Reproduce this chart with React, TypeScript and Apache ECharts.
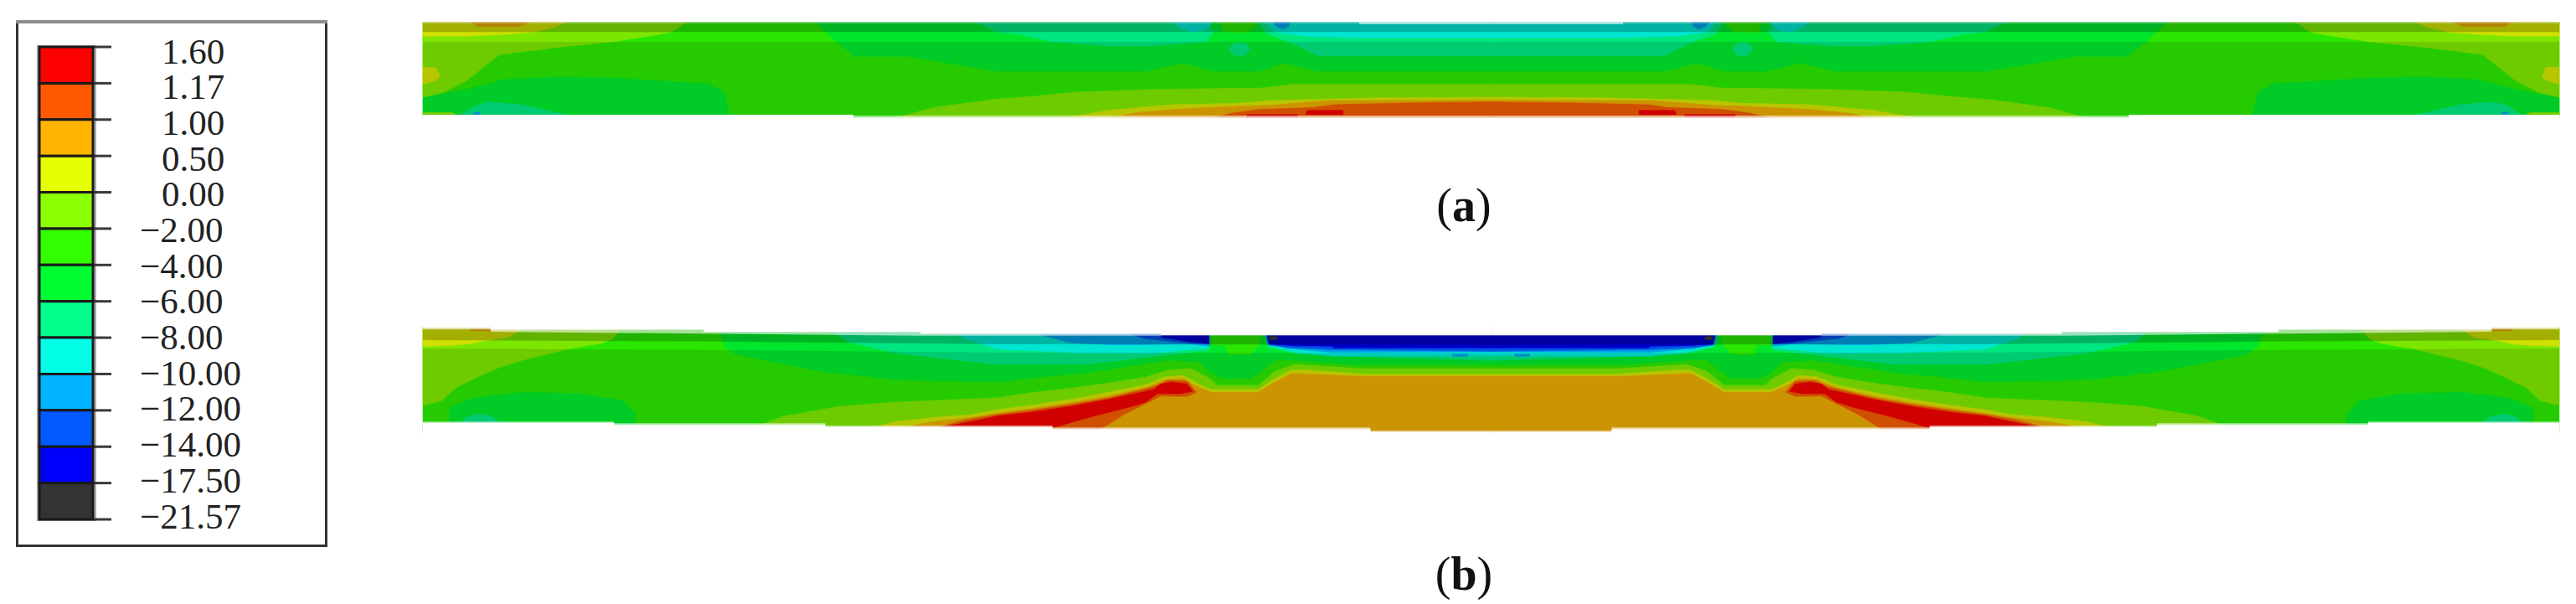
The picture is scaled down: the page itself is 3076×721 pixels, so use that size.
import React, { useEffect, useRef } from "react";
import * as echarts from "echarts";

type Pt = [number, number];
type Region = [string, Pt[]];

// Stress levels of the colour scale (top to bottom)
const legendLabels = ["1.60", "1.17", "1.00", "0.50", "0.00", "−2.00", "−4.00", "−6.00", "−8.00", "−10.00", "−12.00", "−14.00", "−17.50", "−21.57"];
const legendColors = ["#ff0000", "#ff5a00", "#ffb400", "#e6ff00", "#8cff00", "#32ff00", "#00ff32", "#00ff8c", "#00ffe6", "#00b4ff", "#005aff", "#0000ff", "#333333"];

// Fill of each contour band inside the beam
const bandColors: Record<string, string> = {
  R: "#eb0000", O: "#eb5a00", A: "#e6a700", Y: "#d0e000", L: "#7de600", G: "#2ae600",
  H: "#00e62c", T: "#00e680", C: "#00e6d0", S: "#00a2e6", B: "#0052e6", D: "#0000cc", K: "#3a3a3a",
  W: "#ffffff", V: "rgba(255,255,255,0.6)", U: "rgba(255,255,255,0.25)",
};

const centre = 2891; // symmetry line of the beam, in axis units

// Panel (a): contour regions of the left half, painted in order, mirrored about the centre
const panelA: Region[] = [
  ["G", [[34, 48], [2891, 48], [2891, 392], [34, 392]]],
  ["H", [[1080, 48], [1090, 55], [1130, 110], [1190, 172], [1330, 172], [1568, 225], [1968, 225], [2068, 195], [2148, 225], [2268, 225], [2338, 195], [2428, 225], [2891, 225], [2891, 48]]],
  ["T", [[1505, 48], [1540, 65], [1568, 85], [1618, 90], [1718, 120], [1878, 135], [1968, 135], [2128, 120], [2150, 85], [2130, 48]]],
  ["T", [[2270, 48], [2288, 90], [2368, 130], [2428, 170], [2891, 170], [2891, 48]]],
  ["C", [[2038, 48], [2060, 70], [2090, 85], [2120, 80], [2140, 60], [2145, 48]]],
  ["C", [[2288, 48], [2310, 85], [2400, 100], [2540, 105], [2891, 105], [2891, 48]]],
  ["S", [[2305, 48], [2318, 65], [2335, 75], [2350, 65], [2355, 48]]],
  ["G", [[2165, 48], [2178, 85], [2240, 85], [2262, 60], [2262, 48]]],
  ["T", [[2190, 145], [2200, 128], [2218, 122], [2236, 128], [2246, 145], [2236, 165], [2218, 172], [2200, 165]]],
  ["L", [[34, 48], [740, 48], [700, 85], [660, 95], [540, 120], [390, 140], [240, 165], [215, 190], [150, 260], [90, 300], [34, 320]]],
  ["Y", [[34, 48], [420, 48], [380, 70], [330, 85], [260, 92], [150, 100], [34, 100]]],
  ["A", [[160, 48], [320, 48], [290, 65], [180, 65]]],
  ["Y", [[34, 210], [70, 212], [80, 245], [65, 260], [34, 272]]],
  ["H", [[34, 320], [150, 290], [250, 255], [400, 245], [550, 250], [800, 270], [840, 300], [855, 382], [34, 382]]],
  ["T", [[135, 382], [170, 350], [210, 335], [300, 345], [420, 382]]],
  ["S", [[168, 382], [172, 372], [185, 372], [188, 382]]],
  ["L", [[34, 372], [110, 372], [125, 382], [34, 382]]],
  ["L", [[1300, 392], [1400, 355], [1568, 325], [1668, 315], [1778, 300], [1988, 290], [2278, 285], [2358, 272], [2891, 272], [2891, 392]]],
  ["Y", [[1748, 392], [1868, 365], [2038, 345], [2218, 340], [2298, 330], [2448, 325], [2588, 320], [2891, 318], [2891, 392]]],
  ["A", [[1868, 392], [1948, 372], [2038, 362], [2218, 350], [2298, 347], [2458, 330], [2588, 330], [2891, 328], [2891, 392]]],
  ["O", [[2148, 392], [2198, 375], [2268, 362], [2418, 355], [2468, 345], [2683, 338], [2891, 335], [2891, 392]]],
  ["R", [[2238, 392], [2238, 380], [2373, 380], [2373, 392]]],
  ["R", [[2395, 380], [2400, 365], [2495, 365], [2495, 380]]],
];
// Shading of the flange layers in panel (a): [black alpha, outline]
const shadeA: [number, Pt[]][] = [
  [0.22, [[34, 48], [2891, 48], [2891, 85], [34, 85]]],
  [0.115, [[34, 120], [2891, 120], [2891, 392], [34, 392]]],
];
const maskA: Region[] = [
  ["U", [[34, 48], [2538, 48], [2538, 55], [34, 55]]],
  ["W", [[34, 382], [1185, 382], [1185, 396], [34, 396]]],
  ["V", [[1185, 384], [2891, 384], [2891, 392], [1185, 392]]],
  ["W", [[1185, 392], [2891, 392], [2891, 396], [1185, 396]]],
  ["V", [[2538, 48], [2891, 48], [2891, 57], [2538, 57]]],
  ["W", [[34, 42], [2891, 42], [2891, 48], [34, 48]]],
];

// Panel (b)
const panelB: Region[] = [
  ["G", [[34, 30], [2891, 30], [2891, 410], [34, 410]]],
  ["H", [[825, 30], [840, 100], [870, 130], [1100, 190], [1300, 220], [1568, 228], [1688, 210], [1808, 195], [1928, 170], [2028, 150], [2108, 155], [2138, 190], [2168, 215], [2248, 215], [2278, 190], [2313, 150], [2368, 150], [2528, 165], [2891, 165], [2891, 30]]],
  ["T", [[1115, 30], [1170, 85], [1300, 125], [1568, 165], [1808, 165], [1968, 140], [2048, 128], [2138, 115], [2138, 30]]],
  ["T", [[2280, 30], [2293, 105], [2368, 125], [2468, 135], [2891, 150], [2891, 30]]],
  ["C", [[1430, 30], [1480, 70], [1568, 110], [1808, 125], [1988, 125], [2138, 105], [2138, 30]]],
  ["C", [[2280, 30], [2293, 95], [2368, 122], [2468, 135], [2891, 135], [2891, 30]]],
  ["S", [[1680, 30], [1688, 60], [1768, 88], [1888, 95], [2088, 92], [2138, 100], [2138, 30]]],
  ["S", [[2280, 30], [2293, 85], [2348, 108], [2468, 122], [2891, 120], [2891, 30]]],
  ["B", [[1880, 30], [1960, 72], [2088, 90], [2138, 92], [2138, 30]]],
  ["B", [[2285, 30], [2295, 95], [2348, 105], [2468, 112], [2891, 118], [2891, 30]]],
  ["D", [[2005, 30], [2010, 68], [2090, 85], [2138, 90], [2138, 30]]],
  ["D", [[2288, 30], [2298, 92], [2368, 98], [2465, 100], [2470, 106], [2891, 106], [2891, 30]]],
  ["K", [[2298, 65], [2318, 65], [2320, 75], [2300, 78]]],
  ["S", [[2788, 128], [2828, 128], [2828, 136], [2788, 136]]],
  ["H", [[2138, 30], [2280, 30], [2293, 100], [2280, 170], [2140, 170]]],
  ["G", [[2143, 30], [2278, 30], [2272, 95], [2248, 130], [2188, 130], [2178, 95], [2145, 95]]],
  ["L", [[34, 30], [570, 30], [540, 75], [510, 90], [420, 110], [300, 150], [240, 175], [180, 210], [120, 250], [85, 295], [40, 310], [34, 310]]],
  ["Y", [[34, 30], [310, 30], [260, 68], [200, 80], [155, 92], [100, 98], [34, 100]]],
  ["A", [[160, 30], [215, 30], [215, 45], [160, 45]]],
  ["H", [[105, 390], [105, 320], [170, 285], [300, 265], [450, 270], [570, 295], [600, 340], [605, 390]]],
  ["T", [[135, 375], [150, 353], [185, 342], [220, 353], [240, 375]]],
  ["L", [[930, 385], [1000, 350], [1150, 315], [1300, 300], [1568, 285], [1668, 265], [1768, 250], [1868, 232], [1968, 210], [2028, 185], [2088, 180], [2138, 215], [2158, 240], [2268, 240], [2313, 190], [2368, 165], [2548, 180], [2891, 180], [2891, 410], [930, 410]]],
  ["Y", [[1230, 392], [1300, 370], [1400, 355], [1500, 345], [1568, 328], [1668, 310], [1768, 290], [1868, 265], [1968, 238], [2018, 210], [2068, 205], [2108, 235], [2143, 255], [2268, 255], [2308, 220], [2358, 185], [2398, 185], [2553, 200], [2891, 200], [2891, 410], [1230, 410]]],
  ["A", [[1310, 392], [1400, 370], [1500, 355], [1568, 340], [1668, 322], [1768, 302], [1868, 278], [1968, 248], [2018, 220], [2068, 215], [2098, 240], [2143, 265], [2268, 265], [2308, 232], [2358, 197], [2548, 208], [2891, 208], [2891, 410], [1310, 410]]],
  ["O", [[1390, 400], [1480, 365], [1568, 345], [1668, 328], [1768, 308], [1868, 285], [1988, 245], [2028, 222], [2078, 225], [2103, 265], [2078, 280], [2008, 278], [1908, 345], [1843, 400]]],
  ["R", [[1415, 392], [1500, 370], [1568, 350], [1668, 335], [1768, 315], [1868, 290], [1988, 255], [2008, 235], [2038, 228], [2078, 235], [2093, 262], [2058, 270], [1998, 270], [1968, 300], [1918, 320], [1828, 350], [1718, 392]]],
];
const shadeB: [number, Pt[]][] = [
  [0.22, [[34, 30], [2891, 30], [2891, 95], [1568, 92], [700, 82], [34, 78]]],
  [0.115, [[34, 108], [700, 112], [1568, 122], [2891, 125], [2891, 410], [34, 410]]],
];
const maskB: Region[] = [
  ["V", [[215, 40], [785, 40], [785, 48], [1365, 48], [1365, 55], [2008, 55], [2008, 62], [1950, 62], [1365, 62], [785, 55], [215, 48]]],
  ["V", [[34, 33], [215, 33], [215, 40], [34, 40]]],
  ["W", [[34, 20], [215, 20], [215, 33], [34, 33]]],
  ["W", [[215, 20], [215, 40], [785, 40], [785, 48], [1365, 48], [1365, 55], [2008, 55], [2008, 60], [2891, 60], [2891, 20]]],
  ["V", [[34, 370], [545, 370], [545, 376], [1110, 376], [1110, 384], [1718, 384], [1718, 391], [2568, 391], [2568, 402], [2891, 402], [2891, 408], [2568, 408], [2568, 397], [1718, 397], [1718, 390], [1110, 390], [1110, 382], [545, 382], [545, 375], [34, 375]]],
  ["W", [[34, 375], [545, 375], [545, 382], [1110, 382], [1110, 390], [1718, 390], [1718, 397], [2568, 397], [2568, 408], [2891, 408], [2891, 414], [34, 414]]],
];

const serif = "'Liberation Serif', serif";

function regionSeries(regions: { fill: string; pts: Pt[] }[], axis: number) {
  return {
    type: "custom",
    xAxisIndex: axis,
    yAxisIndex: axis,
    clip: false,
    silent: true,
    data: regions.map((r) => [r.pts[0][0], r.pts[0][1]]),
    renderItem: (params: any, api: any) => {
      const r = regions[params.dataIndex];
      const left = r.pts.map((p) => api.coord(p));
      const right = r.pts.map((p) => api.coord([2 * centre - p[0], p[1]]));
      const style = { fill: r.fill, stroke: r.fill.startsWith("rgba") ? "none" : r.fill, lineWidth: 0.6 };
      return {
        type: "group",
        children: [
          { type: "polygon", shape: { points: left }, style },
          { type: "polygon", shape: { points: right }, style },
        ],
      };
    },
  };
}

function layers(regions: Region[], shade: [number, Pt[]][], mask: Region[]) {
  return [
    ...regions.map(([k, pts]) => ({ fill: bandColors[k], pts })),
    ...shade.map(([a, pts]) => ({ fill: `rgba(0,0,0,${a})`, pts })),
    ...mask.map(([k, pts]) => ({ fill: bandColors[k], pts })),
  ];
}

const hiddenX = { type: "value", show: false, min: 34, max: 5748 };

export default function App() {
  const ref = useRef<HTMLDivElement>(null);
  useEffect(() => {
    document.body.style.margin = "0";
    document.body.style.overflow = "hidden";
    const chart = echarts.init(ref.current!, undefined, { renderer: "svg" });
    chart.setOption({
      animation: false,
      backgroundColor: "#ffffff",
      grid: [
        { left: 505, width: 2551, top: 26, height: 114.7 },
        { left: 505, width: 2551, top: 390, height: 127 },
        { left: 47, width: 64, top: 56, height: 564 },
        { left: 47, width: 64, top: 61, height: 555 },
      ],
      xAxis: [
        { ...hiddenX, gridIndex: 0 },
        { ...hiddenX, gridIndex: 1 },
        { type: "value", show: false, min: 0, max: 1, gridIndex: 2 },
        { type: "value", show: false, min: 0, max: 1, gridIndex: 3 },
      ],
      yAxis: [
        { type: "value", show: false, inverse: true, min: 48, max: 392, gridIndex: 0 },
        { type: "value", show: false, inverse: true, min: 30, max: 411, gridIndex: 1 },
        { type: "value", show: false, inverse: true, min: 0, max: 13, interval: 1, gridIndex: 2 },
        { type: "value", show: false, inverse: true, min: 0, max: 13, interval: 1, gridIndex: 3 },
      ],
      graphic: [
        { type: "rect", z: 0, shape: { x: 44, y: 54, width: 71, height: 568 }, style: { fill: "#aaaaaa" } },
        { type: "rect", z: 0, shape: { x: 20.5, y: 26.5, width: 369, height: 625 }, style: { fill: "none", stroke: "#333333", lineWidth: 3 } },
        { type: "line", z: 1, shape: { x1: 19, y1: 26, x2: 391, y2: 26 }, style: { stroke: "#8c8c8c", lineWidth: 4 } },
        {
          type: "text", z: 5, x: 1748, y: 245,
          style: {
            text: "{n|(}{b|a}{n|)}", align: "center", verticalAlign: "middle", fill: "#111",
            rich: { n: { font: `56px ${serif}`, fill: "#111" }, b: { font: `bold 56px ${serif}`, fill: "#111" } },
          },
        },
        {
          type: "text", z: 5, x: 1748, y: 685,
          style: {
            text: "{n|(}{b|b}{n|)}", align: "center", verticalAlign: "middle", fill: "#111",
            rich: { n: { font: `56px ${serif}`, fill: "#111" }, b: { font: `bold 56px ${serif}`, fill: "#111" } },
          },
        },
      ],
      series: [
        regionSeries(layers(panelA, shadeA, maskA), 0),
        regionSeries(layers(panelB, shadeB, maskB), 1),
        {
          type: "custom",
          xAxisIndex: 2,
          yAxisIndex: 2,
          silent: true,
          clip: false,
          data: legendLabels.map((_, i) => [1, i]),
          renderItem: (params: any, api: any) => {
            const p = api.coord([1, params.dataIndex]);
            return {
              type: "line",
              shape: { x1: p[0], y1: p[1], x2: p[0] + 22, y2: p[1] },
              style: { stroke: "#3a3a3a", lineWidth: 3 },
            };
          },
        },
        {
          type: "custom",
          xAxisIndex: 2,
          yAxisIndex: 2,
          silent: true,
          data: legendColors.map((_, i) => [0, i]),
          renderItem: (params: any, api: any) => {
            const i = params.dataIndex;
            const a = api.coord([0, i]);
            const b = api.coord([1, i + 1]);
            return {
              type: "rect",
              shape: { x: a[0], y: a[1], width: b[0] - a[0], height: b[1] - a[1] },
              style: { fill: legendColors[i], stroke: "#1a1a1a", lineWidth: 3 },
            };
          },
        },
        {
          type: "custom",
          xAxisIndex: 3,
          yAxisIndex: 3,
          silent: true,
          clip: false,
          data: legendLabels.map((_, i) => [1, i]),
          renderItem: (params: any, api: any) => {
            const t = legendLabels[params.dataIndex];
            const p = api.coord([1, params.dataIndex]);
            return {
              type: "text",
              style: {
                text: t,
                x: p[0] + (t.startsWith("−") ? 56 : 82),
                y: p[1],
                align: "left",
                verticalAlign: "middle",
                font: `43px ${serif}`,
                fill: "#222",
              },
            };
          },
        },
      ],
    });
    return () => chart.dispose();
  }, []);
  return <div ref={ref} style={{ width: 3076, height: 721 }} />;
}
